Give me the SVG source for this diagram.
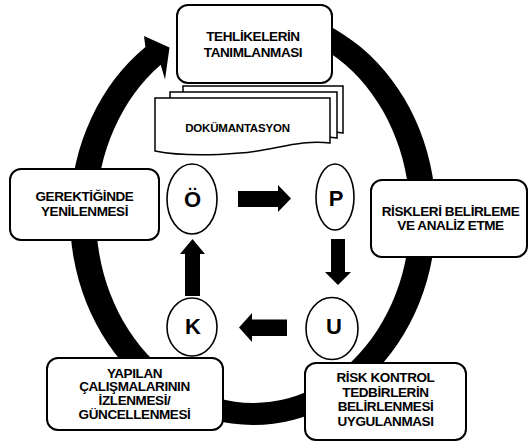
<svg xmlns="http://www.w3.org/2000/svg" width="529" height="444" viewBox="0 0 529 444">
<style>
.box{fill:#fff;stroke:#000;stroke-width:2}
.page{fill:#fff;stroke:#000;stroke-width:1.5}
.ell{fill:#fff;stroke:#000;stroke-width:1.6}
.t{font-family:"Liberation Sans",Arial,sans-serif;font-weight:bold;font-size:13.5px;letter-spacing:-0.4px;text-anchor:middle;fill:#000}
.big{font-family:"Liberation Sans",Arial,sans-serif;font-weight:bold;font-size:22px;text-anchor:middle;fill:#000}
.blk{fill:#000}
</style>
<rect width="529" height="444" fill="#fff"/>
<g id="connectors">
<path id="cycle-ring" class="blk" d="M284.8,10.2 A183,209 0 1 1 145.4,46.9 L144,36 L169.5,47.5 L165,79.5 L160.7,64.7 A157,187 0 1 0 280.3,31.8 Z"/>
<polygon id="arrow-o-p" class="blk" points="238,191 278,191 278,185 291,198.5 278,212 278,207 238,207"/>
<polygon id="arrow-p-u" class="blk" points="331,239 345,239 345,272 351,272 338,285 325,272 331,272"/>
<polygon id="arrow-u-k" class="blk" points="287,319.5 252,319.5 252,313 239,327.5 252,342 252,336 287,336"/>
<polygon id="arrow-k-o" class="blk" points="185,296 200,296 200,254 205,254 192.5,239 180,254 185,254"/>
</g>
<g id="node-dokumantasyon">
<path class="page" d="M183,86 H343 V133 C318,128 295,136 268,140 C238,144 210,145 183,141 Z"/>
<path class="page" d="M170,92 H337 V138 C310,133 285,141 258,145 C228,149 198,150 170,146 Z"/>
<path class="page" d="M155,98 H330 V143 C300,139 272,151 240,153 C205,156 180,156 155,151 Z"/>
<text class="t" x="237.5" y="132" style="font-size:11.5px;letter-spacing:-0.2px">DOKÜMANTASYON</text>
</g>
<g id="node-tehlike">
<rect class="box" x="177" y="5" width="155" height="78" rx="11"/>
<text class="t" x="253" y="40.5">TEHLİKELERİN</text>
<text class="t" x="253" y="56.5">TANIMLANMASI</text>
</g>
<g id="node-gerektiginde">
<rect class="box" x="10" y="169" width="149" height="71" rx="11"/>
<text class="t" x="84.5" y="200.5">GEREKTİĞİNDE</text>
<text class="t" x="84.5" y="215.5">YENİLENMESİ</text>
</g>
<g id="node-riskleri">
<rect class="box" x="371" y="180" width="156" height="77" rx="11"/>
<text class="t" x="450.5" y="215.5">RİSKLERİ BELİRLEME</text>
<text class="t" x="450.5" y="230">VE ANALİZ ETME</text>
</g>
<g id="node-yapilan">
<rect class="box" x="47" y="358" width="176" height="72" rx="11"/>
<text class="t" x="134.5" y="377.5">YAPILAN</text>
<text class="t" x="134.5" y="391.3">ÇALIŞMALARININ</text>
<text class="t" x="134.5" y="405.2">İZLENMESİ/</text>
<text class="t" x="134.5" y="419">GÜNCELLENMESİ</text>
</g>
<g id="node-risk-kontrol">
<rect class="box" x="305" y="363" width="161" height="77" rx="11"/>
<text class="t" x="385.5" y="382">RİSK KONTROL</text>
<text class="t" x="385.5" y="396.5">TEDBİRLERİN</text>
<text class="t" x="385.5" y="411">BELİRLENMESİ</text>
<text class="t" x="385.5" y="425.5">UYGULANMASI</text>
</g>
<g id="node-o">
<ellipse class="ell" cx="192" cy="199" rx="25" ry="35"/>
<text class="big" x="192.5" y="206.5">Ö</text>
</g>
<g id="node-p">
<ellipse class="ell" cx="335" cy="197" rx="19" ry="33"/>
<text class="big" x="336" y="205.5">P</text>
</g>
<g id="node-k">
<ellipse class="ell" cx="192" cy="327" rx="25" ry="29"/>
<text class="big" x="193" y="333.5">K</text>
</g>
<g id="node-u">
<ellipse class="ell" cx="332" cy="328.5" rx="26" ry="31"/>
<text class="big" x="334" y="333.5">U</text>
</g>
</svg>
